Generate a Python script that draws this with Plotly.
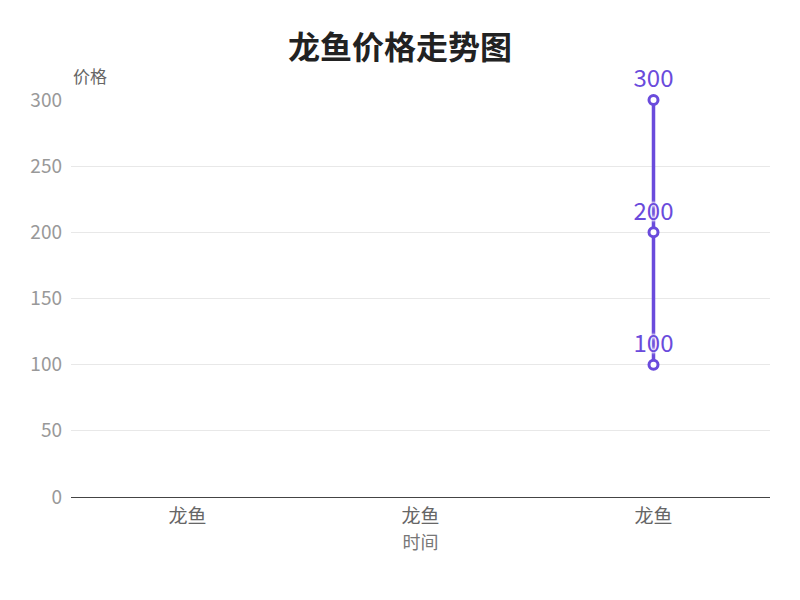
import plotly.graph_objects as go

title_text = "龙鱼价格走势图"
categories = ["龙鱼", "龙鱼", "龙鱼"]
prices = [100, 200, 300]
y_ticks = [0, 50, 100, 150, 200, 250, 300]
x_name = "时间"
y_name = "价格"

# ECharts-like behaviour: duplicate category names map to the last occurrence
last_index = {name: i for i, name in enumerate(categories)}
x_pos = [last_index[c] for c in categories]

FONT = "Noto Sans CJK SC"
PURPLE = "#6a4bdc"

fig = go.Figure()
fig.add_trace(go.Scatter(
    x=x_pos, y=prices,
    mode="lines+markers+text",
    text=[str(v) for v in prices],
    textposition="top center",
    textfont=dict(family=FONT, size=24, color=PURPLE,
                  shadow="0px 0px 3px white, 0px 0px 3px white, 0px 0px 3px white"),
    line=dict(color=PURPLE, width=3.5),
    marker=dict(size=9, color="white", line=dict(color=PURPLE, width=3)),
    cliponaxis=False,
    hoverinfo="x+y",
))

fig.update_layout(
    width=800, height=600,
    margin=dict(l=63, r=38, t=92, b=111),
    paper_bgcolor="white", plot_bgcolor="white",
    showlegend=False,
    font=dict(family=FONT),
    title=dict(text="<b>" + title_text + "</b>", x=(400 - 8) / 800, xanchor="center",
               y=1 - 40 / 600, yanchor="middle",
               font=dict(family=FONT, size=32, color="#222222")),
    xaxis=dict(
        range=[-0.5, len(categories) - 0.5],
        tickmode="array", tickvals=list(range(len(categories))), ticktext=categories,
        tickfont=dict(family=FONT, size=19, color="#666666"),
        showgrid=False, zeroline=False,
        showline=True, linecolor="#444444", linewidth=1,
        ticks="", ticklabelstandoff=2,
        title=dict(text=x_name, font=dict(family=FONT, size=18, color="#777777"), standoff=0),
        fixedrange=True,
    ),
    yaxis=dict(
        range=[0, 300],
        tickmode="array", tickvals=y_ticks,
        tickfont=dict(family=FONT, size=19, color="#999999"),
        showgrid=True, gridcolor="#e8e8e8", gridwidth=1,
        zeroline=False, showline=False, ticks="", ticklabelstandoff=8,
        fixedrange=True,
    ),
    annotations=[dict(
        text=y_name, xref="paper", yref="paper", x=0, y=1,
        xanchor="left", yanchor="bottom", yshift=10, showarrow=False,
        font=dict(family=FONT, size=17, color="#666666"),
    )],
)

fig.write_html("out.html")
